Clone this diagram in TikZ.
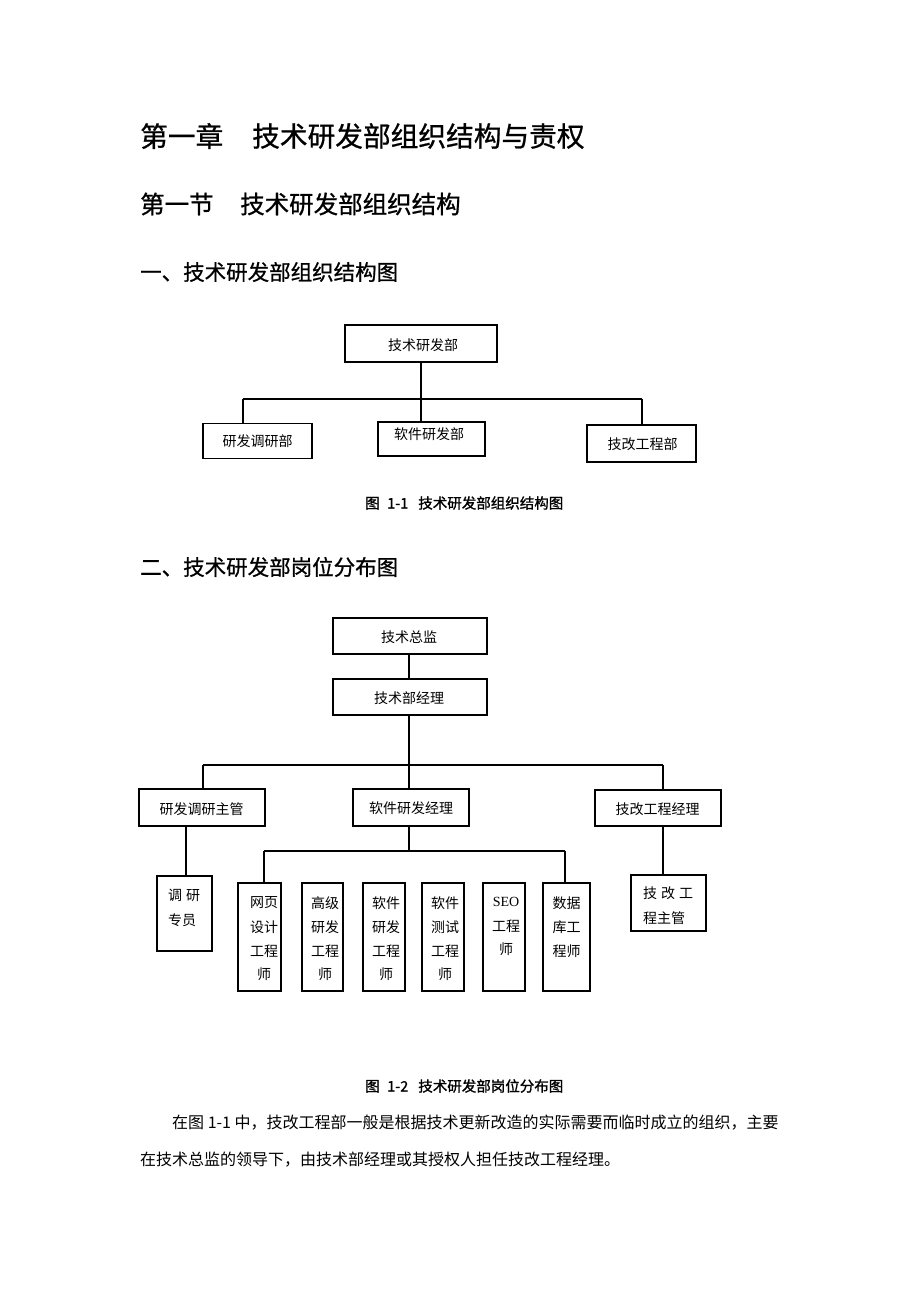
\documentclass[tikz,border=0pt]{standalone}
\usepackage{fontspec}
\newfontfamily\cjk{Noto Sans CJK SC}
\newfontfamily\cjkh[FakeBold=0.8]{Noto Sans CJK SC}
\newfontfamily\cjkb[FakeBold=1.2]{Noto Sans CJK SC}
\newfontfamily\serifl{Liberation Serif}
\begin{document}
\begin{tikzpicture}[x=1pt,y=-1pt,
  bx/.style 2 args={draw, line width=1.2pt, inner sep=0pt, minimum width=#1pt, minimum height=#2pt},
  txt/.style={inner sep=0pt, font=\cjk\fontsize{14}{14}\selectfont},
  ln/.style={line width=1.2pt},
  hone/.style={inner sep=0pt, anchor=west, font=\cjkh\fontsize{27.7}{27.7}\selectfont},
  htwo/.style={inner sep=0pt, anchor=west, font=\cjkh\fontsize{24.5}{24.5}\selectfont},
  hthree/.style={inner sep=0pt, anchor=west, font=\cjkh\fontsize{21.5}{21.5}\selectfont},
  capt/.style={inner sep=0pt, anchor=west, font=\cjkb\fontsize{14.5}{14.5}\selectfont},
  para/.style={inner sep=0pt, anchor=west, font=\cjk\fontsize{16}{16}\selectfont}]
\fill[white] (0,0) rectangle (920,1302);
\useasboundingbox (0,0) rectangle (920,1302);

% headings
\node[hone] (h1a) at (140,136) {第一章};
\node[hone] (h1b) at (252,136) {技术研发部组织结构与责权};
\node[htwo] (h2a) at (140,204) {第一节};
\node[htwo] (h2b) at (240,204) {技术研发部组织结构};
\node[hthree] (h3) at (140,272) {一、技术研发部组织结构图};
\node[hthree] (h4) at (140,567) {二、技术研发部岗位分布图};

% chart 1
\node[bx={152}{37}] (t) at (421,343.5) {};
\node[txt] (tt) at (423,345) {技术研发部};
\node[bx={109}{35}] (L) at (257.5,440.8) {};
\node[txt] (Lt) at (257.5,441.5) {研发调研部};
\node[bx={107}{34}] (M) at (431.5,439) {};
\node[txt] (Mt) at (429,434) {软件研发部};
\node[bx={109}{37}] (R) at (641.5,443.5) {};
\node[txt] (Rt) at (642.5,444.5) {技改工程部};
\coordinate (hL) at (243,399);
\coordinate (hM) at (421,399);
\coordinate (hR) at (642,399);
\draw[ln] (t.south -| hM) -- (M.north -| hM);
\draw[ln] (hL) -- (hR);
\draw[ln] (hL) -- (hL |- L.north);
\draw[ln] (hR) -- (hR |- R.north);

\node[capt] (cap1) at (365,503) {图\hspace{7.5pt}1-1\hspace{10pt}技术研发部组织结构图};

% chart 2
\node[bx={154}{36}] (zj) at (410,636) {};
\node[txt] (zjt) at (409,637) {技术总监};
\node[bx={154}{36}] (jl) at (410,697) {};
\node[txt] (jlt) at (409,698) {技术部经理};
\node[bx={126}{37}] (A) at (202,807.5) {};
\node[txt] (At) at (201.5,809) {研发调研主管};
\node[bx={116}{37}] (B) at (411,807.5) {};
\node[txt] (Bt) at (411,808.5) {软件研发经理};
\node[bx={126}{36}] (C) at (658,808) {};
\node[txt] (Ct) at (657.5,809) {技改工程经理};

\node[bx={55}{75}] (D) at (184.5,913.5) {};
\node[txt, anchor=west] (Dt1) at (168,895) {调\hspace{4pt}研};
\node[txt, anchor=west] (Dt2) at (168,920) {专员};

\node[bx={43}{108}] (E1) at (259.5,937) {};
\node[bx={41}{108}] (E2) at (322.5,937) {};
\node[bx={42}{108}] (E3) at (384,937) {};
\node[bx={42}{108}] (E4) at (443,937) {};
\node[bx={42}{108}] (E5) at (504,937) {};
\node[bx={47}{108}] (E6) at (566.5,937) {};

\node[txt] (e1a) at (264,903) {网页};
\node[txt] (e1b) at (264,927) {设计};
\node[txt] (e1c) at (264,951) {工程};
\node[txt] (e1d) at (264,974) {师};
\node[txt] (e2a) at (325,903) {高级};
\node[txt] (e2b) at (325,927) {研发};
\node[txt] (e2c) at (325,951) {工程};
\node[txt] (e2d) at (325,974) {师};
\node[txt] (e3a) at (386,903) {软件};
\node[txt] (e3b) at (386,927) {研发};
\node[txt] (e3c) at (386,951) {工程};
\node[txt] (e3d) at (386,974) {师};
\node[txt] (e4a) at (445,903) {软件};
\node[txt] (e4b) at (445,927) {测试};
\node[txt] (e4c) at (445,951) {工程};
\node[txt] (e4d) at (445,974) {师};
\node[txt, font=\serifl\fontsize{14}{14}\selectfont] (e5a) at (506,902) {SEO};
\node[txt] (e5b) at (506,926) {工程};
\node[txt] (e5c) at (506,949) {师};
\node[txt] (e6a) at (566.5,903) {数据};
\node[txt] (e6b) at (566.5,927) {库工};
\node[txt] (e6c) at (566.5,951) {程师};

\node[bx={75}{56}] (F) at (668.5,903) {};
\node[txt, anchor=west] (Ft1) at (643,893) {技\hspace{4pt}改\hspace{4pt}工};
\node[txt, anchor=west] (Ft2) at (643,918) {程主管};

\coordinate (k) at (409,765);
\coordinate (kA) at (203,765);
\coordinate (kC) at (663,765);
\coordinate (xD) at (186,851);
\coordinate (k2) at (409,851);
\coordinate (e1) at (264,851);
\coordinate (e6) at (565,851);
\draw[ln] (zj.south -| k) -- (jl.north -| k);
\draw[ln] (jl.south -| k) -- (B.north -| k);
\draw[ln] (kA) -- (kC);
\draw[ln] (kA) -- (kA |- A.north);
\draw[ln] (kC) -- (kC |- C.north);
\draw[ln] (A.south -| xD) -- (D.north -| xD);
\draw[ln] (B.south -| k2) -- (k2);
\draw[ln] (e1) -- (e6);
\draw[ln] (e1) -- (e1 |- E1.north);
\draw[ln] (e6) -- (e6 |- E6.north);
\draw[ln] (C.south -| kC) -- (F.north -| kC);

\node[capt] (cap2) at (365,1086) {图\hspace{7.5pt}1-2\hspace{10pt}技术研发部岗位分布图};

\node[para] (p1) at (172,1123) {在图 1-1 中，技改工程部一般是根据技术更新改造的实际需要而临时成立的组织，主要};
\node[para] (p2) at (140,1160) {在技术总监的领导下，由技术部经理或其授权人担任技改工程经理。};
\end{tikzpicture}
\end{document}
